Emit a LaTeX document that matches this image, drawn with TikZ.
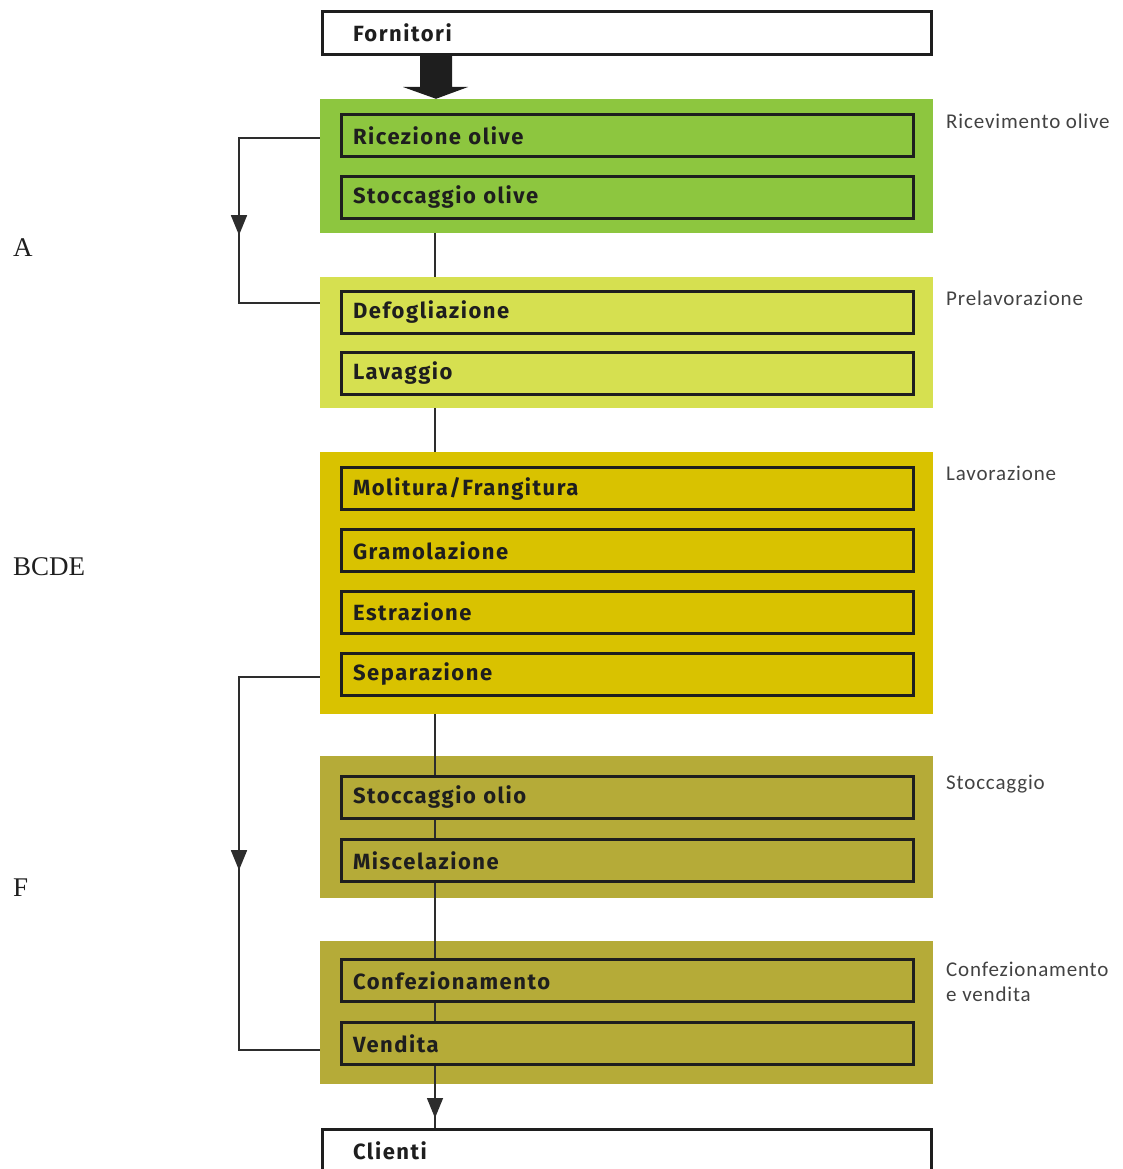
\documentclass[tikz,border=0pt]{standalone}
\usepackage{fontspec}
\setmainfont{Liberation Serif}
\newfontfamily\boxfont[LetterSpace=7]{Fira Sans}
\newfontfamily\sidefont[LetterSpace=4]{Carlito}
\usetikzlibrary{arrows.meta,decorations.markings}
\definecolor{gA}{RGB}{141,198,63}
\definecolor{gB}{RGB}{214,224,80}
\definecolor{gC}{RGB}{217,194,0}
\definecolor{gD}{RGB}{181,171,56}
\definecolor{ink}{RGB}{30,30,30}
\definecolor{lineink}{RGB}{45,45,45}
\begin{document}
\begin{tikzpicture}[x=1pt,y=-1pt,
  grp/.style={fill=#1, draw=none, minimum width=613pt, inner sep=0pt},
  stepbox/.style={draw=ink, line width=3pt, minimum width=572pt, minimum height=42pt,
    inner xsep=11.5pt, inner ysep=0pt, text width=549pt, align=left,
    font=\boxfont\bfseries\fontsize{22pt}{24pt}\selectfont, text=ink},
  endbox/.style={draw=ink, fill=white, line width=3pt, minimum width=609pt, minimum height=43pt,
    inner xsep=30.5pt, inner ysep=0pt, text width=548pt, align=left,
    font=\boxfont\bfseries\fontsize{22pt}{24pt}\selectfont, text=ink},
  side/.style={anchor=base west, inner sep=0pt, align=left,
    font=\sidefont\fontsize{21pt}{25pt}\selectfont, text=lineink!90},
  phase/.style={anchor=base west, inner sep=0pt, font=\fontsize{27pt}{30pt}\selectfont, text=ink},
  conn/.style={draw=lineink, line width=1.5pt},
  midarrow/.style={decoration={markings, mark=at position #1 with {\arrow{Triangle[width=16pt,length=20pt]}}}, postaction={decorate}}
]
\useasboundingbox (0,0) rectangle (1123,1169);

% groups
\node[grp=gA, minimum height=134pt] (g1) at (626.5,166) {};
\node[grp=gB, minimum height=131pt] (g2) at (626.5,342.5) {};
\node[grp=gC, minimum height=262pt] (g3) at (626.5,583) {};
\node[grp=gD, minimum height=142pt] (g4) at (626.5,827) {};
\node[grp=gD, minimum height=143pt] (g5) at (626.5,1012.5) {};

% end boxes
\node[endbox] (forn) at (627,33) {Fornitori};
\node[endbox] (cli) at (627,1151) {Clienti};

% steps
\node[stepbox] (rice) at (627.5,135.5) {Ricezione olive};
\node[stepbox] (stoc) at (627.5,197.5) {Stoccaggio olive};
\node[stepbox] (defo) at (627.5,312) {Defogliazione};
\node[stepbox] (lava) at (627.5,373) {Lavaggio};
\node[stepbox] (moli) at (627.5,488.5) {Molitura/Frangitura};
\node[stepbox] (gram) at (627.5,550.5) {Gramolazione};
\node[stepbox] (estr) at (627.5,612) {Estrazione};
\node[stepbox] (sepa) at (627.5,674.5) {Separazione};
\node[stepbox] (stol) at (627.5,797.5) {Stoccaggio olio};
\node[stepbox] (misc) at (627.5,860.5) {Miscelazione};
\node[stepbox] (conf) at (627.5,980.5) {Confezionamento};
\node[stepbox] (vend) at (627.5,1043.5) {Vendita};

% big arrow from suppliers
\fill[ink] (forn.south -| 420,0) -- (forn.south -| 452,0) -- (452,87) -- (468,87)
  -- (g1.north -| 436,0) -- (403,87) -- (420,87) -- cycle;

% spine
\coordinate (cx) at (435,0);
\draw[conn] (g1.south -| cx) -- (g2.north -| cx);
\draw[conn] (g2.south -| cx) -- (g3.north -| cx);
\draw[conn] (g3.south -| cx) -- (stol.north -| cx);
\draw[conn] (stol.south -| cx) -- (misc.north -| cx);
\draw[conn] (misc.south -| cx) -- (conf.north -| cx);
\draw[conn] (conf.south -| cx) -- (vend.north -| cx);
\draw[conn, midarrow=-10pt] (vend.south -| cx) -- (cli.north -| cx);

% side loops
\draw[conn, midarrow=178pt] (g1.west |- 0,138) -- (239,138) -- (239,303) -- (g2.west |- 0,303);
\draw[conn, midarrow=274pt] (g3.west |- 0,677) -- (239,677) -- (239,1050) -- (g5.west |- 0,1050);

% phase names
\node[side] (sA) at (946,129) {Ricevimento olive};
\node[side] (sB) at (946,305) {Prelavorazione};
\node[side] (sC) at (946,480) {Lavorazione};
\node[side] (sD) at (946,789) {Stoccaggio};
\node[side] (sE) at (946,1001) {Confezionamento\\e vendita};

% letters
\node[phase] (lA) at (13,256) {A};
\node[phase] (lB) at (13,575) {BCDE};
\node[phase] (lF) at (13,896) {F};
\end{tikzpicture}
\end{document}
